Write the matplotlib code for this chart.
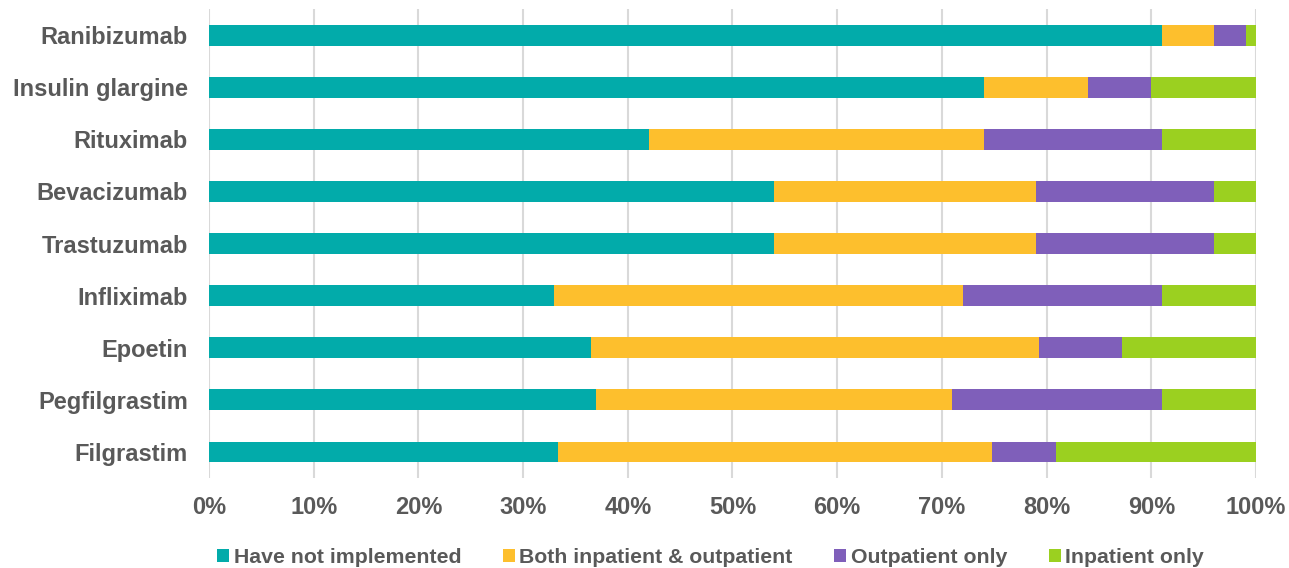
import matplotlib.pyplot as plt
import numpy as np

plt.rcParams['font.family'] = ['Liberation Sans', 'DejaVu Sans']
plt.rcParams['font.weight'] = 'bold'

drugs = ['Ranibizumab', 'Insulin glargine', 'Rituximab', 'Bevacizumab',
         'Trastuzumab', 'Infliximab', 'Epoetin', 'Pegfilgrastim', 'Filgrastim']
series = ['Have not implemented', 'Both inpatient & outpatient',
          'Outpatient only', 'Inpatient only']
not_impl = [91, 74, 42, 54, 54, 33, 36.5, 37, 33.3]
both = [5, 10, 32, 25, 25, 39, 42.8, 34, 41.5]
outpatient = [3, 6, 17, 17, 17, 19, 7.9, 20, 6.1]
inpatient = [1, 10, 9, 4, 4, 9, 12.8, 9, 19.1]
colors = ['#02ABAA', '#FDBF2D', '#7F5FBA', '#9BD020']

text_col = '#595959'
fig = plt.figure(figsize=(12.89, 5.68), dpi=100)
ax = fig.add_axes([0.1621, 0.1585, 0.8123, 0.8255])

y = np.arange(len(drugs))
left = np.zeros(len(drugs))
for name, vals, c in zip(series, [not_impl, both, outpatient, inpatient], colors):
    vals = np.array(vals)
    ax.barh(y, vals, left=left, height=0.4, color=c, label=name, zorder=3)
    left += vals

ax.set_xlim(0, 100)
ax.set_ylim(len(drugs) - 0.5, -0.5)
ax.set_yticks(y)
ax.set_yticklabels(drugs)
ax.set_xticks(np.arange(0, 101, 10))
ax.set_xticklabels([f'{v}%' for v in range(0, 101, 10)])
ax.tick_params(axis='both', length=0, labelsize=17, labelcolor=text_col)
ax.tick_params(axis='x', pad=13)
ax.tick_params(axis='y', pad=15)
ax.grid(axis='x', color='#D9D9D9', linewidth=1.5, zorder=0)
for s in ax.spines.values():
    s.set_visible(False)

leg = ax.legend(loc='center', bbox_to_anchor=(0.479, -0.17), ncol=4, frameon=False,
                fontsize=15.3, handlelength=0.58, handleheight=0.58, handletextpad=0.2,
                columnspacing=1.95, borderaxespad=0)
for t in leg.get_texts():
    t.set_color(text_col)

fig.savefig('out.png', dpi=100)
